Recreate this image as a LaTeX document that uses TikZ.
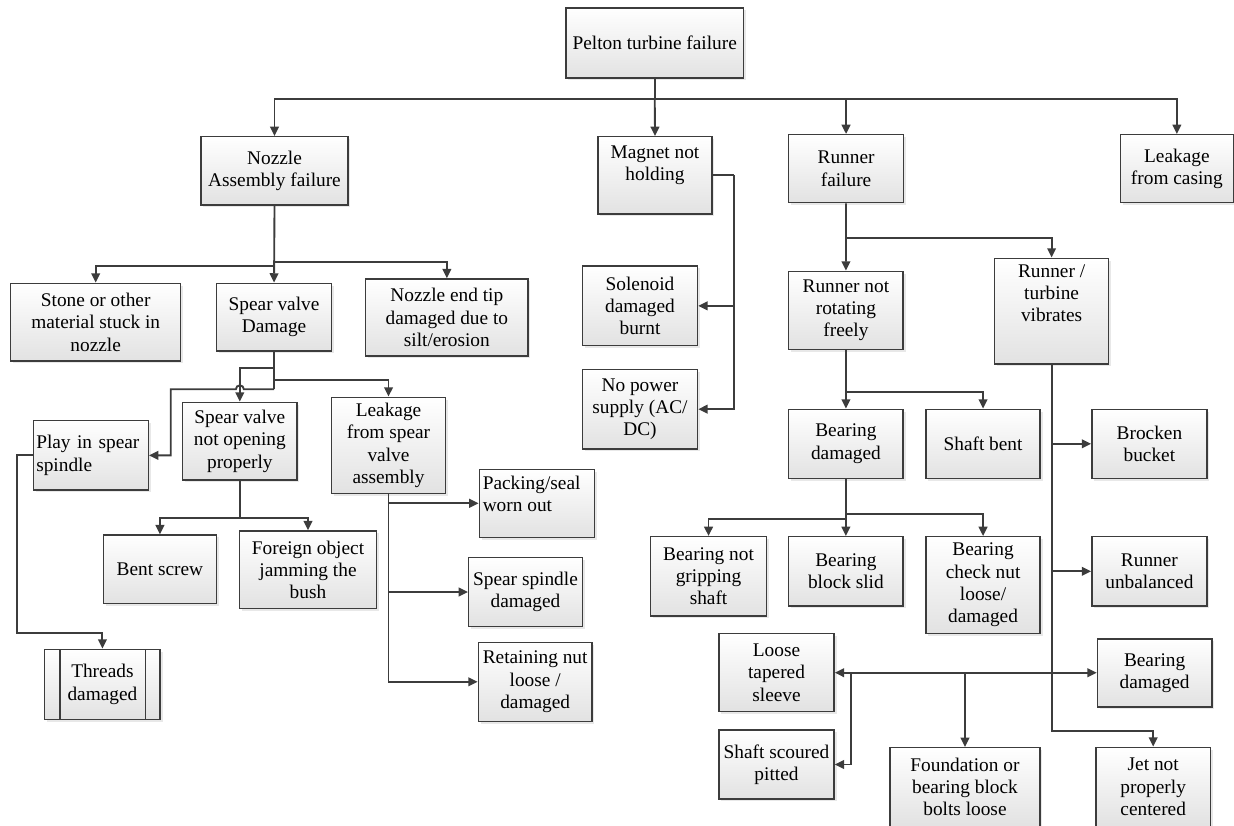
\documentclass[tikz,border=0pt]{standalone}
\usepackage{fontspec}
\setmainfont{Liberation Serif}
\usetikzlibrary{arrows.meta,shadows}
\definecolor{edge}{HTML}{3C3C3C}
\definecolor{shade}{HTML}{E2E2E2}

\tikzset{
  every node/.style={font=\fontsize{14.5}{16.7}\selectfont},
  box/.style={draw=edge, line width=1.05pt, inner sep=1pt, align=center,
    top color=white, bottom color=shade,
    drop shadow={shadow xshift=1.8pt, shadow yshift=-1.8pt, fill=black!18}},
  sz/.style 2 args={minimum width=#1pt, minimum height=#2pt},
  toptext/.style={inner sep=0pt, align=center},
  link/.style={draw=edge, line width=1.4pt},
  arr/.style={link, -{Triangle[length=7pt,width=6.5pt]}},
  arrboth/.style={link, {Triangle[length=7pt,width=6.5pt]}-{Triangle[length=7pt,width=6.5pt]}},
}

\begin{document}
\begin{tikzpicture}[x=0.75pt, y=-0.75pt]
\useasboundingbox (0,0) rectangle (1234,825);

% ---------- boxes ----------
\node[box, sz={133.1}{52.5}] (pelton) at (654.75,43) {Pelton turbine failure};

\node[box, sz={110.25}{51.2}] (nozzle) at (274.5,170.85) {Nozzle\\Assembly failure};
\node[box, sz={85.5}{58}] (magnet) at (655,175.35) {};
\node[toptext, anchor=north] (magnet-text) at ([yshift=-7.2pt]magnet.north) {Magnet not\\holding};
\node[box, sz={85.9}{51}] (runner) at (846.05,168.7) {Runner\\failure};
\node[box, sz={84.5}{51}] (casing) at (1176.85,168.7) {Leakage\\from casing};

\node[box, sz={127.5}{58.3}] (stone) at (95.7,322.15) {Stone or other\\material stuck in\\nozzle};
\node[box, sz={86}{50.8}] (svdamage) at (274.05,317.15) {Spear valve\\Damage};
\node[box, sz={121.6}{57.75}] (tip) at (446.85,317.5) {Nozzle end tip\\damaged due to\\silt/erosion};

\node[box, sz={86}{52}, text width=82pt, align=left] (play) at (90.95,455.35) {Play in spear\\spindle};
\node[box, sz={85.7}{58.3}] (svopen) at (239.85,441.15) {Spear valve\\not opening\\properly};
\node[box, sz={85.65}{72}] (leaksv) at (388.5,445.3) {Leakage\\from spear\\valve\\assembly};

\node[box, sz={86.3}{51}] (packing) at (536.75,503.3) {};
\node[toptext, align=left, anchor=north west] (packing-text) at ([xshift=3pt, yshift=-5.2pt]packing.north west) {Packing/seal\\worn out};
\node[box, sz={85.35}{52}] (spindle) at (525.5,592) {Spear spindle\\damaged};
\node[box, sz={85.1}{59.25}] (retaining) at (535.15,681.8) {Retaining nut\\loose /\\damaged};

\node[box, sz={85.1}{51.2}] (bent) at (159.95,569.15) {Bent screw};
\node[box, sz={102.6}{58}] (foreign) at (308,569.65) {Foreign object\\jamming the\\bush};

\node[box, sz={86.55}{52.5},
  path picture={
    \draw[edge, line width=1.05pt]
      ([xshift=11.5pt]path picture bounding box.north west) --
      ([xshift=11.5pt]path picture bounding box.south west);
    \draw[edge, line width=1.05pt]
      ([xshift=-10.9pt]path picture bounding box.north east) --
      ([xshift=-10.9pt]path picture bounding box.south east);
  }] (threads) at (102.4,684.3) {Threads\\damaged};

\node[box, sz={86.4}{59.8}] (solenoid) at (640,305.85) {Solenoid\\damaged\\burnt};
\node[box, sz={86.4}{59.8}] (nopower) at (640,409.15) {No power\\supply (AC/\\DC)};

\node[box, sz={85.8}{58.5}] (notrot) at (845.9,310.3) {Runner not\\rotating\\freely};
\node[box, sz={85.65}{79.3}] (vibr) at (1051.6,311.15) {};
\node[toptext, anchor=north] (vibr-text) at ([yshift=-5pt]vibr.north) {Runner /\\turbine\\vibrates};

\node[box, sz={85.8}{51.75}] (beardmg) at (845.9,443.8) {Bearing\\damaged};
\node[box, sz={85.7}{51.75}] (shaft) at (983.05,443.8) {Shaft bent};
\node[box, sz={86.4}{51.75}] (bucket) at (1149.4,443.8) {Brocken\\bucket};

\node[box, sz={86.8}{59.5}] (grip) at (708.55,576.35) {Bearing not\\gripping\\shaft};
\node[box, sz={85.8}{52}] (slid) at (845.9,571.35) {Bearing\\block slid};
\node[box, sz={85.7}{72.45}] (checknut) at (983.05,585) {Bearing\\check nut\\loose/\\damaged};
\node[box, sz={86.4}{52}] (unbal) at (1149.4,571.35) {Runner\\unbalanced};

\node[box, sz={86.4}{58.5}] (sleeve) at (776.5,672.7) {Loose\\tapered\\sleeve};
\node[box, sz={86.4}{51.75}] (scoured) at (776.5,764.5) {Shaft scoured\\pitted};
\node[box, sz={85.8}{51}] (bearing2) at (1154.6,673) {Bearing\\damaged};
\node[box, sz={112.6}{59.1}] (foundation) at (964.95,787.1) {Foundation or\\bearing block\\bolts loose};
\node[box, sz={86.1}{59.4}] (jet) at (1153.2,786.9) {Jet not\\properly\\centered};

% ---------- junction points ----------
\coordinate (topbus) at (654.75,99.3);
\coordinate (nzL) at (274.05,265.7);
\coordinate (nzR) at (274.05,261.7);
\coordinate (svA) at (274.05,368.3);
\coordinate (svB) at (274.05,380);
\coordinate (svC) at (274.05,389.3);
\coordinate (hopR) at (243.85,389.3);
\coordinate (playcorner) at (170.8,389.3);
\coordinate (plA) at (16.6,632.7);
\coordinate (soJ) at (239.85,517.7);
\coordinate (mgX) at (734.1,175.35);
\coordinate (rnJ) at (846.05,237.7);
\coordinate (nrJ) at (845.9,391.7);
\coordinate (bdL) at (845.9,519.3);
\coordinate (bdR) at (845.9,514.3);
\coordinate (vbB) at (1051.6,731);
\coordinate (slA) at (850.7,672.7);
\coordinate (slB) at (964.95,672.7);

% ---------- connectors ----------
\draw[link] (pelton.south) -- (topbus);
\draw[arr] (topbus) -| (nozzle.north);
\draw[arr] (topbus) -- (magnet.north);
\draw[arr] (topbus) -| (runner.north);
\draw[arr] (topbus) -| (casing.north);

\draw[arr] (nozzle.south) -- (svdamage.north);
\draw[arr] (nzL) -| (stone.north);
\draw[arr] (nzR) -| (tip.north);

\draw[link] (svdamage.south) -- (svC);
\draw[arr] (svA) -| (svopen.north);
\draw[arr] (svB) -| (leaksv.north);
\draw[arr] (svC) -- (hopR) arc (0:-180:4) -- (playcorner) |- (play.east);
\draw[arr] (play.west) -| (plA) -| (threads.north);

\draw[link] (svopen.south) -- (soJ);
\draw[arr] (soJ) -| (bent.north);
\draw[arr] (soJ) -| (foreign.north);

\draw[arr] (leaksv.south) |- (packing.west);
\draw[arr] (leaksv.south) |- (spindle.west);
\draw[arr] (leaksv.south) |- (retaining.west);

\draw[link] (magnet.east) -- (mgX);
\draw[arr] (mgX) |- (solenoid.east);
\draw[arr] (mgX) |- (nopower.east);

\draw[arr] (runner.south) -- (notrot.north);
\draw[arr] (rnJ) -| (vibr.north);

\draw[arr] (notrot.south) -- (beardmg.north);
\draw[arr] (nrJ) -| (shaft.north);

\draw[arr] (beardmg.south) -- (slid.north);
\draw[arr] (bdL) -| (grip.north);
\draw[arr] (bdR) -| (checknut.north);

\draw[arr] (vibr.south) -- (vbB) -| (jet.north);
\draw[arr] (vibr.south) |- (bucket.west);
\draw[arr] (vibr.south) |- (unbal.west);

\draw[arrboth] (sleeve.east) -- (sleeve.east -| bearing2.west);
\draw[arr] (slA) |- (scoured.east);
\draw[arr] (slB) -- (foundation.north);
\end{tikzpicture}
\end{document}
